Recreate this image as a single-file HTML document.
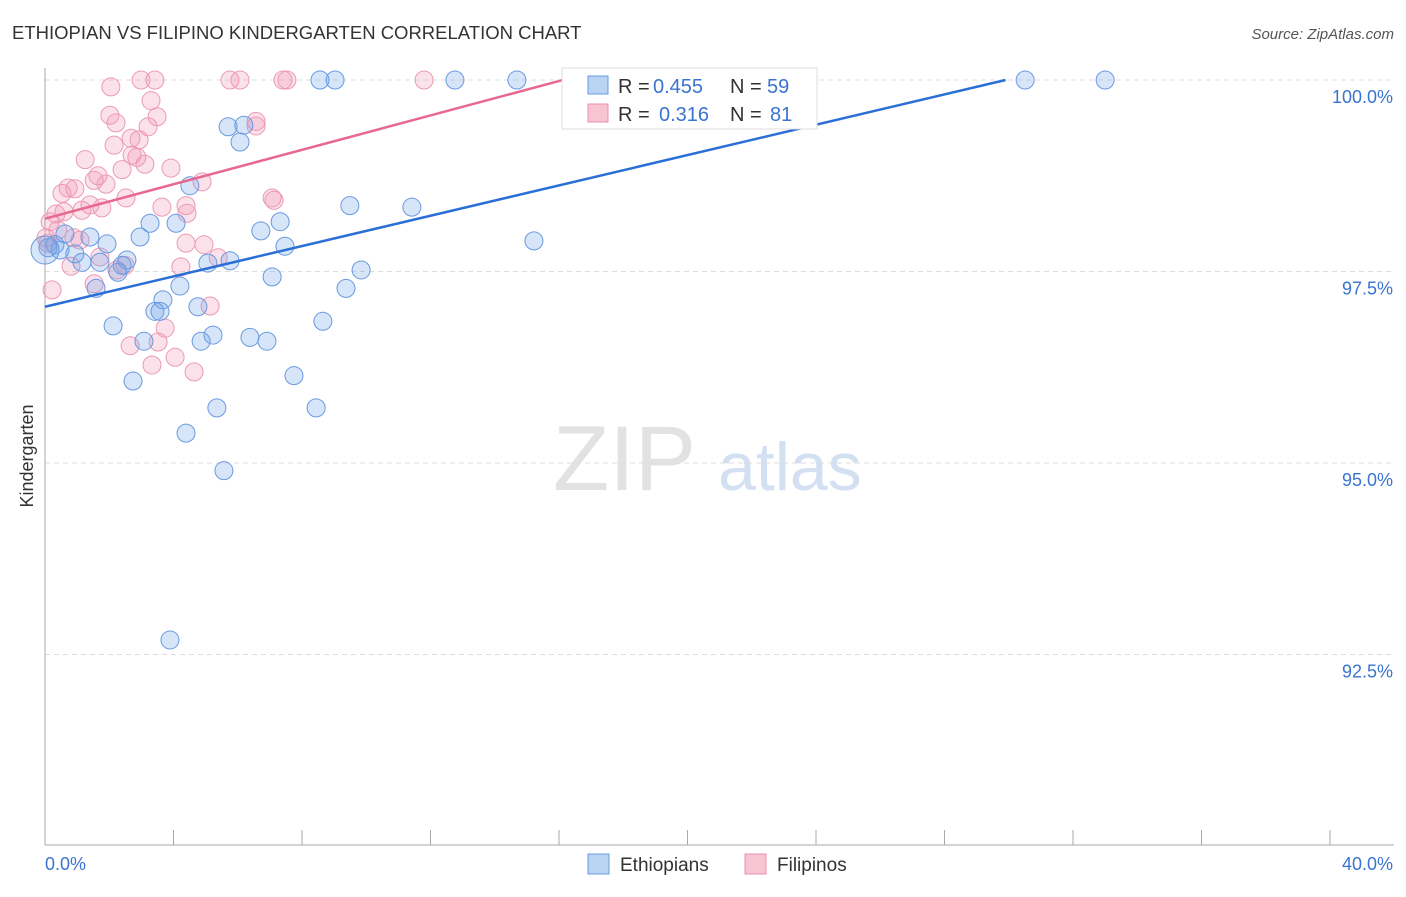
<!DOCTYPE html>
<html><head><meta charset="utf-8"><style>
body{margin:0;background:#fff;font-family:"Liberation Sans",sans-serif}
svg text{font-family:"Liberation Sans",sans-serif}
</style></head><body>
<svg id="c" width="1406" height="892" xmlns="http://www.w3.org/2000/svg">
<text x="12" y="39" font-size="18.5" fill="#333">ETHIOPIAN VS FILIPINO KINDERGARTEN CORRELATION CHART</text>
<text x="1394" y="39" font-size="15" fill="#555" font-style="italic" text-anchor="end">Source: ZipAtlas.com</text>
<text x="553" y="490" font-size="92" fill="#e2e2e2" font-family="Liberation Serif">ZIP</text>
<text x="718" y="490" font-size="68" fill="#d3e0f2">atlas</text>
<text transform="translate(33,456) rotate(-90)" font-size="18" fill="#333" text-anchor="middle">Kindergarten</text>
<g id="grid"></g><g id="pts"></g><g id="lines"></g>
<g>
<rect x="562" y="68" width="255" height="61" fill="#fff" stroke="#ddd"/>
<rect x="588" y="76" width="20" height="18" fill="#b9d3f3" stroke="#6a9ae0"/>
<text x="618" y="93" font-size="20" fill="#333">R =</text>
<text x="653" y="93" font-size="20" fill="#3a74d0">0.455</text>
<text x="730" y="93" font-size="20" fill="#333">N =</text>
<text x="767" y="93" font-size="20" fill="#3a74d0">59</text>
<rect x="588" y="104" width="20" height="18" fill="#f8c3d3" stroke="#e890ab"/>
<text x="618" y="121" font-size="20" fill="#333">R =</text>
<text x="659" y="121" font-size="20" fill="#3a74d0">0.316</text>
<text x="730" y="121" font-size="20" fill="#333">N =</text>
<text x="770" y="121" font-size="20" fill="#3a74d0">81</text>
</g>
<g>
<rect x="588" y="854" width="21" height="20" fill="#b9d3f3" stroke="#6a9ae0"/>
<text x="620" y="871" font-size="19" fill="#333">Ethiopians</text>
<rect x="745" y="854" width="21" height="20" fill="#f8c3d3" stroke="#e890ab"/>
<text x="777" y="871" font-size="19" fill="#333">Filipinos</text>
</g>
</svg>
<script>
const blueX=[8.56,9.03,12.76,14.69,20.70,30.51,33.00,5.70,6.19,6.07,4.51,9.49,11.42,7.32,4.08,3.27,6.72,2.96,15.22,7.47,1.93,0.62,1.40,0.31,0.09,0.47,0.93,1.15,1.71,2.55,2.40,2.27,5.07,5.76,7.07,9.84,9.37,1.59,4.20,3.67,3.42,3.58,4.76,2.12,8.65,3.08,4.86,5.23,6.38,6.91,2.74,7.75,5.35,8.44,4.39,5.57,3.89,0.0];
const blueY=[100,100,100,100,100,100,100,99.39,99.41,99.19,98.62,98.36,98.34,98.15,98.13,98.13,98.03,97.95,97.90,97.83,97.86,97.99,97.95,97.85,97.81,97.78,97.73,97.62,97.62,97.65,97.58,97.49,97.61,97.64,97.43,97.52,97.28,97.28,97.31,97.13,96.98,96.98,97.04,96.79,96.85,96.59,96.59,96.67,96.64,96.59,96.07,96.14,95.72,95.72,95.39,94.90,92.69,97.78];
const pinkX=[2.99,3.42,5.76,6.07,7.41,7.53,11.80,16.65,2.05,3.30,2.02,3.49,2.21,6.57,3.21,2.15,2.68,2.93,2.71,2.86,3.11,3.92,1.25,2.40,1.65,1.53,4.89,0.72,0.93,0.53,1.90,2.52,7.07,7.13,1.77,1.40,1.15,3.64,4.39,4.42,0.34,0.59,0.16,0.40,0.90,0.03,4.39,4.95,5.39,1.71,4.23,2.49,0.81,1.53,0.22,5.14,3.74,3.52,2.65,4.05,3.33,4.64,2.24,1.09,0.09,6.57];
const pinkY=[100,100,100,100,100,100,100,100,99.91,99.73,99.54,99.52,99.44,99.46,99.39,99.15,99.24,99.22,99.02,98.99,98.90,98.85,98.96,98.83,98.75,98.69,98.67,98.59,98.58,98.52,98.64,98.46,98.46,98.43,98.33,98.37,98.30,98.34,98.36,98.26,98.25,98.28,98.15,98.04,97.94,97.94,97.87,97.85,97.68,97.69,97.56,97.58,97.57,97.34,97.26,97.05,96.76,96.58,96.53,96.38,96.28,96.19,97.52,97.91,97.87,99.40];
const blueTrend=[[0,97.04],[29.9,100]];
const pinkTrend=[[0,98.19],[16.65,100.06]];
const yTicks=[100,97.5,95,92.5];
const yTickLabels=["100.0%","97.5%","95.0%","92.5%"];
const xTicks=[0,4,8,12,16,20,24,28,32,36,40];
const NS="http://www.w3.org/2000/svg";
const sx=v=>45+v*32.125, sy=v=>80+(100-v)*76.6;
function mk(t,a,p){const e=document.createElementNS(NS,t);for(const k in a)e.setAttribute(k,a[k]);p.appendChild(e);return e;}
const g=document.getElementById('grid');
yTicks.forEach((t,i)=>{
 const l=mk('line',{x1:45,x2:1394,y1:sy(t),y2:sy(t),stroke:'#ddd','stroke-dasharray':'5,4'},g);
 
 
 const tx=mk('text',{x:1393,y:sy(t)+23,'font-size':18,fill:'#3a74d0','text-anchor':'end'},g);
 tx.textContent=yTickLabels[i];
 
 
});
const ax=mk('line',{x1:45,x2:45,y1:68,y2:845,stroke:'#aaa'},g);


const bx=mk('line',{x1:45,x2:1394,y1:845,y2:845,stroke:'#aaa'},g);


xTicks.forEach(t=>{
 const l=mk('line',{x1:sx(t),x2:sx(t),y1:830,y2:845,stroke:'#aaa'},g);
 
 
});
const xl=mk('text',{x:45,y:870,'font-size':18,fill:'#3a74d0'},g);xl.textContent=xTicks[0].toFixed(1)+'%';


const xr=mk('text',{x:1393,y:870,'font-size':18,fill:'#3a74d0','text-anchor':'end'},g);xr.textContent=xTicks[xTicks.length-1].toFixed(1)+'%';


const P=document.getElementById('pts');
function pts(X,Y,fill,stroke,name){X.forEach((x,i)=>{
 const c=mk('circle',{cx:sx(x),cy:sy(Y[i]),r:(name==='ethiopian-point'&&i===X.length-1)?14:9,fill:fill,stroke:stroke,'stroke-width':1},P);
 
 
});}
pts(pinkX,pinkY,'rgba(242,150,180,0.28)','#ec9ab4','filipino-point');
pts(blueX,blueY,'rgba(110,160,230,0.28)','#6a9ae0','ethiopian-point');
const L=document.getElementById('lines');
const t1=mk('line',{x1:sx(blueTrend[0][0]),y1:sy(blueTrend[0][1]),x2:sx(blueTrend[1][0]),y2:sy(blueTrend[1][1]),stroke:'#2a6fd6','stroke-width':2.5},L);


const t2=mk('line',{x1:sx(pinkTrend[0][0]),y1:sy(pinkTrend[0][1]),x2:sx(pinkTrend[1][0]),y2:sy(pinkTrend[1][1]),stroke:'#e8688f','stroke-width':2.5},L);


</script>
</body></html>
